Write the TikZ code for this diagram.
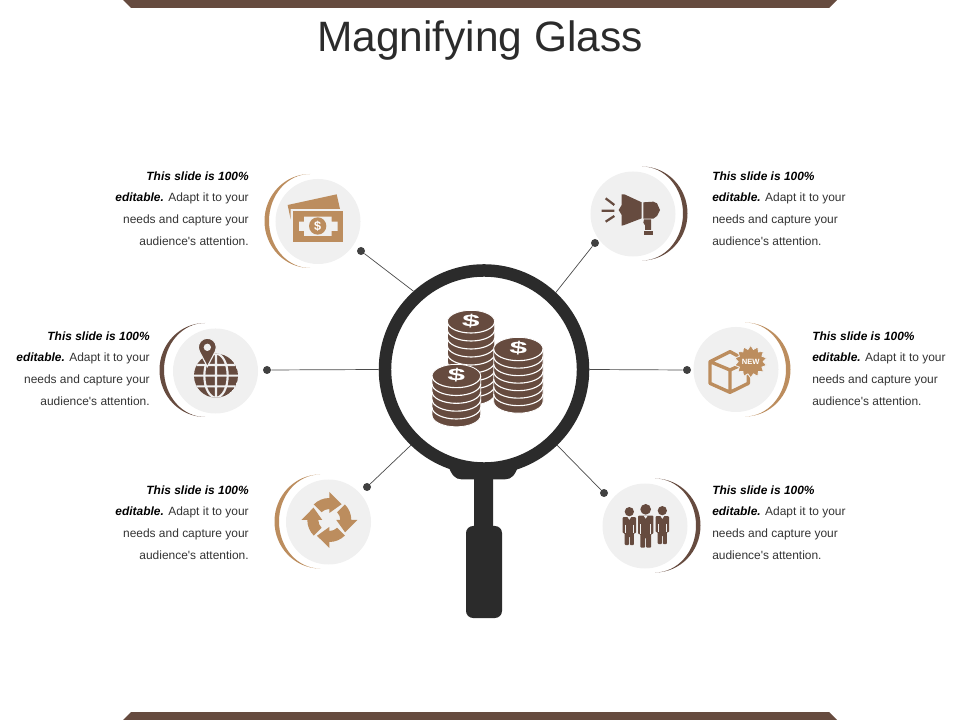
\documentclass[tikz,border=0pt]{standalone}
\usepackage{fontspec}
\setmainfont{Liberation Sans}
\usetikzlibrary {shapes.geometric}

\definecolor{barbrown}{HTML}{664B3F}
\definecolor{tanbrown}{HTML}{BC8D5E}
\definecolor{softgray}{HTML}{F0F0F0}
\definecolor{ink}{HTML}{2B2B2B}
\definecolor{bodygray}{HTML}{333333}

\tikzset{
	zoomunits/.style = {x = 0.008333cm, y = -0.008333cm},
	iconbg/.style = {circle, fill = softgray, minimum size = 2.125cm, inner sep = 0},
	linkdot/.style = {circle, fill = ink!90, minimum size = 0.2cm, inner sep = 0},
	link/.style = {line width = .5pt, ink!85},
	blurb/.style = {text = bodygray, font = \fontsize{8.5}{15.4}\selectfont, inner sep = 0},
	cash/.style = {font = \bfseries, text = white, inner sep = 0}
}

\newcommand{\blurbleft}{\textcolor{black}{\textbf{\textit{This slide is 100\%}}}\\\textcolor{black}{\textbf{\textit{editable.}}} Adapt it to your\\needs and capture your\\audience\textquotesingle s attention.}

\newcommand{\crescent}[4]{
	\fill[#4, shift = {(#1, #2)}, xscale = #3] (0, -47) arc[start angle = -90, end angle = -270, x radius = 45.5, y radius = 47] arc[start angle = -270, end angle = -90, x radius = 41, y radius = 47] -- cycle;
}

% cx, top, rx, ry, levels, step
\newcommand{\coinstack}[6]{
	\filldraw[barbrown, draw = white, line width = .6pt] ({#1 - #3}, #2) arc[start angle = 180, end angle = 360, x radius = #3, y radius = #4] -- ++(0, {#5 * #6}) arc[start angle = 0, end angle = 180, x radius = #3, y radius = #4] -- cycle;
	\foreach \k in {0, ..., \numexpr#5-1\relax}
		\draw[white, line width = .8pt] ({#1 - #3}, {#2 + \k * #6}) arc[start angle = 180, end angle = 0, x radius = #3, y radius = #4];
	\node[cash, font = \fontsize{15}{15}\bfseries\selectfont, xscale = 1.5, yscale = .8, rotate = -3] (cash#1) at (#1, #2 - 2) {\$};
}

\begin{document}
\begin{tikzpicture}[x = 0.025cm, y = -0.025cm]
	\useasboundingbox (0, 0) rectangle (960, 720);

	% bars and title
	\fill[barbrown] (123, 0) -- (837, 0) -- (829, 8) -- (131, 8) -- cycle;
	\fill[barbrown] (131, 712) -- (829, 712) -- (837, 720) -- (123, 720) -- cycle;
	\node[text = ink, font = \fontsize{30.2}{30.2}\selectfont] (title) at (480, 41) {Magnifying Glass};

	% magnifying glass
	\fill[ink, rounded corners = 3] (474, 470) rectangle (493, 535);
	\fill[ink, rounded corners = 5] (466, 526) rectangle (502, 618);
	\begin{scope}[shift = {(370, 250)}, zoomunits]
		\fill[ink] (235, 648) .. controls (245, 675) and (255, 688) .. (275, 688) -- (405, 688) .. controls (425, 688) and (435, 675) .. (445, 648) -- cycle;
	\end{scope}
	\node[circle, draw = ink, line width = .3125cm, minimum size = 4.95cm, inner sep = 0] (lens) at (484, 369.5) {};

	% coins
	\begin{scope}[shift = {(370, 250)}, zoomunits]
		\coinstack{303}{215}{71}{34}{9}{24}
		\coinstack{445}{297}{74}{35}{7}{22.5}
		\coinstack{259}{378}{73}{35}{5}{23.5}
	\end{scope}

	% icon circles
	\crescent{310}{221}{1}{tanbrown}
	\crescent{205}{370}{1}{barbrown}
	\crescent{320}{521.5}{1}{tanbrown}
	\crescent{642}{213.5}{-1}{barbrown}
	\crescent{745}{369.5}{-1}{tanbrown}
	\crescent{655}{525.5}{-1}{barbrown}
	\node[iconbg] (moneycircle) at (318, 221.5) {};
	\node[iconbg] (globecircle) at (215.5, 371) {};
	\node[iconbg] (cyclecircle) at (328.5, 522) {};
	\node[iconbg] (megacircle) at (633, 214) {};
	\node[iconbg] (boxcircle) at (736, 369.5) {};
	\node[iconbg] (peoplecircle) at (645, 526) {};

	% connectors
	\node[linkdot] (moneydot) at (361, 251) {};
	\node[linkdot] (globedot) at (267, 370) {};
	\node[linkdot] (cycledot) at (367, 487) {};
	\node[linkdot] (megadot) at (595, 243) {};
	\node[linkdot] (boxdot) at (687, 370) {};
	\node[linkdot] (peopledot) at (604, 493) {};
	\draw[link] (moneydot) -- (lens.132);
	\draw[link] (globedot) -- (lens.180);
	\draw[link] (cycledot) -- (lens.226);
	\draw[link] (megadot) -- (lens.47);
	\draw[link] (boxdot) -- (lens.0);
	\draw[link] (peopledot) -- (lens.-46);

	% money
	\begin{scope}[shift = {(100, 160)}, zoomunits]
		\fill[tanbrown] (563, 135) -- (710, 103) -- (720, 147) -- (572, 147) -- (572, 178) -- cycle;
		\fill[tanbrown] (578, 153) rectangle (730, 245);
		\fill[softgray] (612, 170) -- (695, 170) -- (695, 185) -- (713, 185) -- (713, 213) -- (695, 213) -- (695, 228) -- (612, 228) -- (612, 213) -- (597, 213) -- (597, 185) -- (612, 185) -- cycle;
		\fill[tanbrown] (653, 198) circle (26);
		\node[cash, font = \fontsize{9}{9}\bfseries\selectfont] (moneysign) at (653, 198) {\$};
	\end{scope}

	% globe
	\begin{scope}[shift = {(150, 315)}, zoomunits]
		\begin{scope}
			\clip (198, 182) circle (66);
			\fill[barbrown] (198, 182) circle (66);
			\draw[softgray, line width = 1.5pt] (198, 182) ellipse (35 and 66) (198, 116) -- (198, 248) (132, 150) -- (264, 150) (132, 182) -- (264, 182) (132, 214) -- (264, 214);
		\end{scope}
		\filldraw[barbrown, draw = softgray, line width = .8pt] (172, 155) -- (148, 109) arc[start angle = 153, end angle = 387, radius = 27] -- cycle;
		\fill[softgray] (172, 97) circle (11);
	\end{scope}

	% cycle arrows
	\begin{scope}[shift = {(329.3, 520)}]
		\foreach \turn in {0, 90, 180, 270}
			\fill[tanbrown] ({225 + \turn}:22) arc[start angle = 225 + \turn, end angle = 270 + \turn, radius = 22] -- ({270 + \turn}:28) -- ({308 + \turn}:20) -- ({270 + \turn}:7) -- ({270 + \turn}:11) arc[start angle = 270 + \turn, end angle = 225 + \turn, radius = 11] -- cycle;
	\end{scope}

	% megaphone
	\begin{scope}[shift = {(585, 160)}, zoomunits]
		\fill[barbrown] (101, 150) -- (110, 135) -- (110, 103) -- (118, 103) -- (170, 127) -- (170, 175) -- (118, 195) -- (110, 197) -- (110, 165) -- cycle;
		\fill[barbrown] (175, 127) -- (205, 125) -- (216, 130) -- (225, 150) -- (216, 168) -- (205, 176) -- (175, 176) -- cycle;
		\fill[barbrown] (177, 178) -- (198, 178) -- (198, 210) -- (180, 210) -- (180, 196) -- (175, 188) -- cycle;
		\fill[barbrown] (177, 213) rectangle (205, 225);
		\draw[barbrown, line width = 1.6pt] (62, 115) -- (88, 135) (50, 152) -- (88, 152) (62, 185) -- (88, 168);
	\end{scope}

	% box
	\begin{scope}[shift = {(680, 315)}, zoomunits]
		\draw[tanbrown, line width = 2.4pt, line join = round] (205, 140) -- (150, 110) -- (90, 140) -- (90, 205) -- (150, 232) -- (205, 205) -- (205, 140) -- (150, 165) -- (90, 140) (150, 165) -- (150, 232);
		\node[star, star points = 14, star point ratio = 1.3, fill = tanbrown, draw = softgray, line width = .6pt, text = white, font = \fontsize{5.4}{5.4}\bfseries\selectfont, minimum size = .78cm, inner sep = 0] (newstar) at (212, 140) {NEW};
	\end{scope}

	% people
	\begin{scope}[shift = {(595, 475)}, zoomunits]
		\foreach \px/\py/\ps in {103/110/.87, 202/107/.87, 152/103/1} {
			\begin{scope}[shift = {(\px, \py)}, scale = \ps]
				\fill[barbrown] (0, 0) circle (16);
				\fill[barbrown, rounded corners = .6pt] (-23, 19) -- (23, 19) -- (23, 74) -- (16, 74) -- (16, 115) -- (1.5, 115) -- (1.5, 85) -- (-1.5, 85) -- (-1.5, 115) -- (-16, 115) -- (-16, 74) -- (-23, 74) -- cycle;
				\draw[softgray, line width = .3pt] (-15, 45) -- (-15, 74) (15, 45) -- (15, 74);
				\fill[softgray] (-6, 19) -- (0, 28) -- (6, 19) -- cycle;
			\end{scope}
		}
	\end{scope}

	% texts
	\node[blurb, align = right, anchor = east] (moneytext) at (249, 208.5) {\blurbleft};
	\node[blurb, align = right, anchor = east] (globetext) at (150, 368.5) {\blurbleft};
	\node[blurb, align = right, anchor = east] (cycletext) at (249, 522.5) {\blurbleft};
	\node[blurb, align = left, anchor = west] (megatext) at (712, 208.5) {\blurbleft};
	\node[blurb, align = left, anchor = west] (boxtext) at (812, 368.5) {\blurbleft};
	\node[blurb, align = left, anchor = west] (peopletext) at (712, 522.5) {\blurbleft};
\end{tikzpicture}
\end{document}
